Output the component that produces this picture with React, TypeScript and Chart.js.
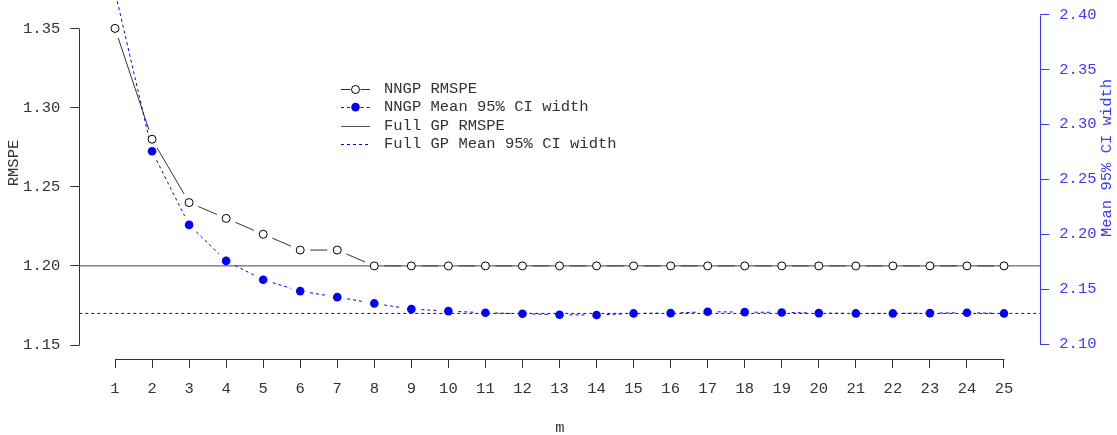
import React, { useEffect, useRef } from 'react';
import { Chart, registerables } from 'chart.js';

Chart.register(...registerables);

// ---------- data ----------
const M_VALUES = [1, 2, 3, 4, 5, 6, 7, 8, 9, 10, 11, 12, 13, 14, 15, 16, 17, 18, 19, 20, 21, 22, 23, 24, 25];
const NNGP_RMSPE = [1.35, 1.28, 1.24, 1.23, 1.22, 1.21, 1.21, 1.2, 1.2, 1.2, 1.2, 1.2, 1.2, 1.2, 1.2, 1.2, 1.2, 1.2, 1.2, 1.2, 1.2, 1.2, 1.2, 1.2, 1.2];
const NNGP_CI_WIDTH = [2.421, 2.2755, 2.2085, 2.1757, 2.1585, 2.1482, 2.1427, 2.137, 2.1318, 2.130, 2.1285, 2.1276, 2.1267, 2.1264, 2.1279, 2.1282, 2.1294, 2.1291, 2.1288, 2.1282, 2.1279, 2.1279, 2.1282, 2.1285, 2.1279];
const FULL_GP_RMSPE = 1.2;
const FULL_GP_CI_WIDTH = 2.1279;
const RMSPE_TICKS = [1.15, 1.2, 1.25, 1.3, 1.35];
const CI_TICKS = [2.1, 2.15, 2.2, 2.25, 2.3, 2.35, 2.4];
const M_TICKS = M_VALUES;

const SERIES_NAMES = ['NNGP RMSPE', 'NNGP Mean 95% CI width', 'Full GP RMSPE', 'Full GP Mean 95% CI width'];
const X_LABEL = 'm';
const Y_LABEL = 'RMSPE';
const Y2_LABEL = 'Mean 95% CI width';

// ---------- scale limits / style ----------
const X_MIN = 0.036;
const X_MAX = 25.98;
const Y_MIN = 1.1412;
const Y_MAX = 1.3591;
const Y2_MIN = 2.0864;
const Y2_MAX = 2.4005;

const FONT_FAMILY = "'Liberation Mono', 'Courier New', monospace";
const FONT_SIZE = 15.5;
const BLACK = '#333333';
const AXIS_BLACK = '#333333';
const BLUE = '#0000ff';
const AXIS_BLUE = '#3a3aff';
const GAP = 10;

const setTicks = (vals: number[]) => (scale: any) => {
  scale.ticks = vals.map((v) => ({ value: v }));
};

const noPad = (s: any) => {
  s.paddingTop = 0;
  s.paddingBottom = 0;
  s.paddingLeft = 0;
  s.paddingRight = 0;
};

const typeBPlugin = {
  id: 'typeBLines',
  beforeDatasetsDraw(chart: any) {
    const ctx = chart.ctx;
    [0, 1].forEach((i) => {
      const meta = chart.getDatasetMeta(i);
      const ds = chart.data.datasets[i];
      const pts = meta.data;
      ctx.save();
      ctx.beginPath();
      ctx.rect(0, 0, chart.width, chart.height);
      ctx.clip();
      ctx.strokeStyle = ds.borderColor;
      ctx.lineWidth = 1;
      ctx.setLineDash(ds.borderDash || []);
      ctx.beginPath();
      for (let j = 0; j < pts.length - 1; j++) {
        const p = pts[j];
        const q = pts[j + 1];
        const dx = q.x - p.x;
        const dy = q.y - p.y;
        const len = Math.sqrt(dx * dx + dy * dy);
        if (len <= 2 * GAP) continue;
        const ux = dx / len;
        const uy = dy / len;
        ctx.moveTo(p.x + ux * GAP, p.y + uy * GAP);
        ctx.lineTo(q.x - ux * GAP, q.y - uy * GAP);
      }
      ctx.stroke();
      ctx.restore();
    });
  },
};

const axesPlugin = {
  id: 'rAxes',
  afterDraw(chart: any) {
    const ctx = chart.ctx;
    const { x, y, y2 } = chart.scales;
    const area = chart.chartArea;
    const al = (v: number) => Math.round(v) + 0.5;
    ctx.save();
    ctx.lineWidth = 1;
    ctx.setLineDash([]);
    // left axis line
    ctx.strokeStyle = AXIS_BLACK;
    ctx.beginPath();
    ctx.moveTo(al(area.left), al(y.getPixelForValue(RMSPE_TICKS[0])));
    ctx.lineTo(al(area.left), al(y.getPixelForValue(RMSPE_TICKS[RMSPE_TICKS.length - 1])));
    ctx.stroke();
    // bottom axis line
    ctx.beginPath();
    ctx.moveTo(al(x.getPixelForValue(M_TICKS[0])), al(area.bottom));
    ctx.lineTo(al(x.getPixelForValue(M_TICKS[M_TICKS.length - 1])), al(area.bottom));
    ctx.stroke();
    // right axis line
    ctx.strokeStyle = AXIS_BLUE;
    ctx.beginPath();
    ctx.moveTo(al(area.right), al(y2.getPixelForValue(CI_TICKS[0])));
    ctx.lineTo(al(area.right), al(y2.getPixelForValue(CI_TICKS[CI_TICKS.length - 1])));
    ctx.stroke();

    // axis titles
    ctx.font = `${FONT_SIZE}px ${FONT_FAMILY}`;
    ctx.textAlign = 'center';
    ctx.textBaseline = 'middle';
    ctx.fillStyle = BLACK;
    ctx.fillText(X_LABEL, (area.left + area.right) / 2, 428);
    ctx.save();
    ctx.translate(14, 163);
    ctx.rotate(-Math.PI / 2);
    ctx.fillText(Y_LABEL, 0, 0);
    ctx.restore();
    ctx.save();
    ctx.fillStyle = AXIS_BLUE;
    ctx.translate(1107, 158);
    ctx.rotate(-Math.PI / 2);
    ctx.fillText(Y2_LABEL, 0, 0);
    ctx.restore();

    // legend
    const lx0 = 341;
    const lx1 = 370;
    const lcx = 355.5;
    const tx = 384;
    const rows = [88.5, 107.1, 125.7, 144.3];
    ctx.textAlign = 'left';
    const seg = (yy: number, color: string, dash: number[], gap: number) => {
      ctx.save();
      ctx.strokeStyle = color;
      ctx.setLineDash(dash);
      ctx.beginPath();
      if (gap > 0) {
        ctx.moveTo(lx0, yy);
        ctx.lineTo(lcx - gap, yy);
        ctx.moveTo(lcx + gap, yy);
        ctx.lineTo(lx1, yy);
      } else {
        ctx.moveTo(lx0, yy);
        ctx.lineTo(lx1, yy);
      }
      ctx.stroke();
      ctx.restore();
    };
    // row 1
    seg(al(rows[0]), AXIS_BLACK, [], 5);
    ctx.beginPath();
    ctx.arc(lcx, al(rows[0]), 4, 0, Math.PI * 2);
    ctx.fillStyle = '#ffffff';
    ctx.fill();
    ctx.strokeStyle = '#000000';
    ctx.stroke();
    // row 2
    seg(al(rows[1]), BLUE, [3, 3], 5);
    ctx.beginPath();
    ctx.arc(lcx, rows[1], 4.3, 0, Math.PI * 2);
    ctx.fillStyle = BLUE;
    ctx.fill();
    // row 3
    seg(al(rows[2]), '#555555', [], 0);
    // row 4
    seg(al(rows[3]), BLUE, [3, 3], 0);
    ctx.fillStyle = BLACK;
    SERIES_NAMES.forEach((name, i) => {
      ctx.fillText(name, tx, rows[i]);
    });
    ctx.restore();
  },
};

export default function App() {
  const canvasRef = useRef<HTMLCanvasElement | null>(null);

  useEffect(() => {
    document.body.style.margin = '0';
    const canvas = canvasRef.current;
    if (!canvas) return;
    const font = { family: FONT_FAMILY, size: FONT_SIZE };
    const chart = new Chart(canvas, {
      type: 'line',
      data: {
        datasets: [
          {
            label: SERIES_NAMES[0],
            data: M_VALUES.map((m, i) => ({ x: m, y: NNGP_RMSPE[i] })),
            yAxisID: 'y',
            showLine: false,
            borderColor: AXIS_BLACK,
            borderWidth: 1,
            pointRadius: 4,
            pointBorderWidth: 1,
            pointBackgroundColor: '#ffffff',
            pointBorderColor: '#000000',
          },
          {
            label: SERIES_NAMES[1],
            data: M_VALUES.map((m, i) => ({ x: m, y: NNGP_CI_WIDTH[i] })),
            yAxisID: 'y2',
            showLine: false,
            borderColor: BLUE,
            borderDash: [3, 3],
            borderWidth: 1,
            pointRadius: 4.3,
            pointBorderWidth: 0,
            pointBackgroundColor: BLUE,
            pointBorderColor: BLUE,
          },
          {
            label: SERIES_NAMES[2],
            data: [
              { x: X_MIN, y: FULL_GP_RMSPE },
              { x: X_MAX, y: FULL_GP_RMSPE },
            ],
            yAxisID: 'y',
            borderColor: '#444444',
            borderWidth: 1,
            pointRadius: 0,
          },
          {
            label: SERIES_NAMES[3],
            data: [
              { x: X_MIN, y: FULL_GP_CI_WIDTH },
              { x: X_MAX, y: FULL_GP_CI_WIDTH },
            ],
            yAxisID: 'y2',
            borderColor: BLUE,
            borderDash: [3, 3],
            borderWidth: 1,
            pointRadius: 0,
          },
        ],
      },
      options: {
        animation: false,
        responsive: false,
        layout: { padding: { top: 14, left: 0, right: 0, bottom: 0 } },
        plugins: {
          legend: { display: false },
          tooltip: { enabled: false },
          title: { display: false },
        },
        scales: {
          x: {
            type: 'linear',
            min: X_MIN,
            max: X_MAX,
            afterBuildTicks: setTicks(M_TICKS),
            afterFit: (s: any) => {
              s.height = 76;
              noPad(s);
            },
            grid: { drawOnChartArea: false, drawTicks: true, tickLength: 9, color: AXIS_BLACK, lineWidth: 1 },
            border: { display: false },
            ticks: {
              autoSkip: false,
              maxRotation: 0,
              padding: 12,
              color: BLACK,
              font,
              callback: (v: any) => String(v),
            },
          },
          y: {
            type: 'linear',
            position: 'left',
            min: Y_MIN,
            max: Y_MAX,
            afterBuildTicks: setTicks(RMSPE_TICKS),
            afterFit: (s: any) => {
              s.width = 79.3;
              noPad(s);
            },
            grid: { drawOnChartArea: false, drawTicks: true, tickLength: 9, color: AXIS_BLACK, lineWidth: 1 },
            border: { display: false },
            ticks: {
              padding: 10,
              color: BLACK,
              font,
              callback: (v: any) => Number(v).toFixed(2),
            },
          },
          y2: {
            type: 'linear',
            position: 'right',
            min: Y2_MIN,
            max: Y2_MAX,
            afterBuildTicks: setTicks(CI_TICKS),
            afterFit: (s: any) => {
              s.width = 76.7;
              noPad(s);
            },
            grid: { drawOnChartArea: false, drawTicks: true, tickLength: 9, color: AXIS_BLUE, lineWidth: 1 },
            border: { display: false },
            ticks: {
              padding: 10,
              color: AXIS_BLUE,
              font,
              callback: (v: any) => Number(v).toFixed(2),
            },
          },
        },
      },
      plugins: [typeBPlugin, axesPlugin],
    } as any);
    return () => {
      chart.destroy();
    };
  }, []);

  return <canvas ref={canvasRef} width={1117} height={435} style={{ display: 'block' }} />;
}
